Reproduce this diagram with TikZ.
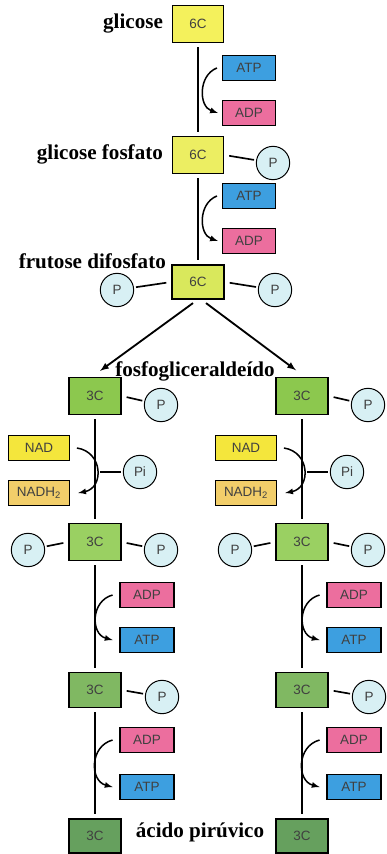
\documentclass[tikz,border=0pt]{standalone}
\usepackage{fontspec}
\setmainfont{Liberation Serif}
\setsansfont{Liberation Sans}
\usepackage{tikz}
\usetikzlibrary{arrows,positioning}
\definecolor{amarelo}{HTML}{F4F15C}
\definecolor{amarelob}{HTML}{ECEE62}
\definecolor{amareloverde}{HTML}{D9E85C}
\definecolor{verdea}{HTML}{8CC84E}
\definecolor{verdeb}{HTML}{9AD062}
\definecolor{verdec}{HTML}{80B862}
\definecolor{verded}{HTML}{66A05E}
\definecolor{azul}{HTML}{3D9FE0}
\definecolor{rosa}{HTML}{EC6E9E}
\definecolor{nadcor}{HTML}{F4E63C}
\definecolor{nadhcor}{HTML}{F2CE6A}
\definecolor{pcor}{HTML}{D8F0F4}
\tikzstyle{caixa}=[draw, line width=0.45mm, minimum width=15.6mm, minimum height=11mm, inner sep=0pt, font=\sffamily\fontsize{11.5}{13}\selectfont, text=black!75]
\tikzstyle{energia}=[caixa, minimum width=15.8mm, minimum height=7.4mm]
\tikzstyle{coenzima}=[caixa, minimum width=18.3mm, minimum height=7.4mm]
\tikzstyle{fosfato}=[circle, draw, line width=0.3mm, fill=pcor, minimum size=10mm, inner sep=0pt, font=\sffamily\fontsize{11.5}{13}\selectfont, text=black!75]
\tikzstyle{rotulo}=[font=\bfseries\fontsize{18}{20}\selectfont]
\tikzstyle{via}=[line width=0.55mm, shorten <=1.2mm, shorten >=1.2mm]
\tikzstyle{liga}=[line width=0.5mm, shorten <=1.5mm, shorten >=0.6mm]
\tikzstyle{troca}=[->, line width=0.45mm]

\begin{document}
\begin{tikzpicture}[x=0.3mm, y=-0.3mm, >=latex]
\useasboundingbox (0,0) rectangle (386,854);

% hexoses
\node[caixa, fill=amarelo, minimum width=15.3mm] (glicose) at (198,24) {6C};
\node[rotulo, anchor=east] (lglicose) at (167,24) {glicose};
\node[caixa, fill=amarelob, minimum width=15.3mm] (gfosfato) at (198,155) {6C};
\node[rotulo, anchor=east] (lgfosfato) at (167,154) {glicose fosfato};
\node[fosfato] (pg) at (273,163) {P};
\node[caixa, fill=amareloverde, minimum height=10.2mm] (frutose) at (198,282) {6C};
\node[rotulo, anchor=east] (lfrutose) at (170,261) {frutose difosfato};
\node[fosfato] (pfe) at (117,290) {P};
\node[fosfato] (pfd) at (275,290) {P};

\draw[via] (glicose) -- (gfosfato);
\draw[via] (gfosfato) -- (frutose);
\draw[liga] (gfosfato.east) -- (pg);
\draw[liga] (frutose.east) -- (pfd);
\draw[liga] (frutose.west) -- (pfe);

% atp
\node[energia, fill=azul] (atp1) at (249,68) {ATP};
\node[energia, fill=rosa] (adp1) at (249,113) {ADP};
\node[energia, fill=azul] (atp2) at (249,196) {ATP};
\node[energia, fill=rosa] (adp2) at (249,241) {ADP};
\draw[troca] ([xshift=-1.5mm]atp1.west) to[bend right=70, looseness=1.15] ([xshift=-1.2mm]adp1.west);
\draw[troca] ([xshift=-1.5mm]atp2.west) to[bend right=70, looseness=1.15] ([xshift=-1.2mm]adp2.west);

% trioses
\node[rotulo] (lfosfo) at (195,371) {fosfogliceraldeído};
\node[rotulo] (lacido) at (200,832) {ácido pirúvico};
\foreach \X/\n in {95/a,302/b}{
    \node[caixa, fill=verdea] (c1\n) at (\X,396) {3C};
    \node[fosfato] (p1\n) at (\X+66,405) {P};
    \node[coenzima, fill=nadcor] (nad\n) at (\X-56,448) {NAD};
    \node[coenzima, fill=nadhcor] (nadh\n) at (\X-56,493) {NADH\textsubscript{2}};
    \coordinate (m\n) at (\X,472);
    \node[fosfato] (pi\n) at (\X+45,472) {Pi};
    \node[caixa, fill=verdeb] (c2\n) at (\X,542) {3C};
    \node[fosfato] (p2\n) at (\X-67,550) {P};
    \node[fosfato] (p3\n) at (\X+66,550) {P};
    \node[energia, fill=rosa, minimum width=16.2mm] (adp3\n) at (\X+52,595) {ADP};
    \node[energia, fill=azul, minimum width=16.2mm] (atp3\n) at (\X+52,640) {ATP};
    \node[caixa, fill=verdec, minimum height=10.5mm] (c3\n) at (\X,690) {3C};
    \node[fosfato] (p4\n) at (\X+67,697) {P};
    \node[energia, fill=rosa, minimum width=16.2mm] (adp4\n) at (\X+52,740) {ADP};
    \node[energia, fill=azul, minimum width=16.2mm] (atp4\n) at (\X+52,787) {ATP};
    \node[caixa, fill=verded, minimum height=10.2mm] (c4\n) at (\X,836) {3C};
    \draw[via] (c1\n) -- (c2\n);
    \draw[via] (c2\n) -- (c3\n);
    \draw[via] (c3\n) -- (c4\n);
    \draw[liga] (c1\n.east) -- (p1\n);
    \draw[liga] (m\n) -- (pi\n);
    \draw[liga] (c2\n.east) -- (p3\n);
    \draw[liga] (c2\n.west) -- (p2\n);
    \draw[liga] (c3\n.east) -- (p4\n);
    \draw[troca] ([xshift=2mm]nad\n.east) to[bend left=80, looseness=1.5] ([xshift=2.4mm]nadh\n.east);
    \draw[troca] ([xshift=-2mm]adp3\n.west) to[bend right=75, looseness=1.3] ([xshift=-2mm]atp3\n.west);
    \draw[troca] ([xshift=-2mm]adp4\n.west) to[bend right=75, looseness=1.3] ([xshift=-2mm]atp4\n.west);
}

% divisao
\draw[->, line width=0.55mm] ([xshift=-1.5mm,yshift=-1mm]frutose.south) -- ([xshift=1.5mm,yshift=1.8mm]c1a.north);
\draw[->, line width=0.55mm] ([xshift=2.4mm,yshift=-1mm]frutose.south) -- ([xshift=-1.8mm,yshift=2mm]c1b.north);

\end{tikzpicture}
\end{document}
